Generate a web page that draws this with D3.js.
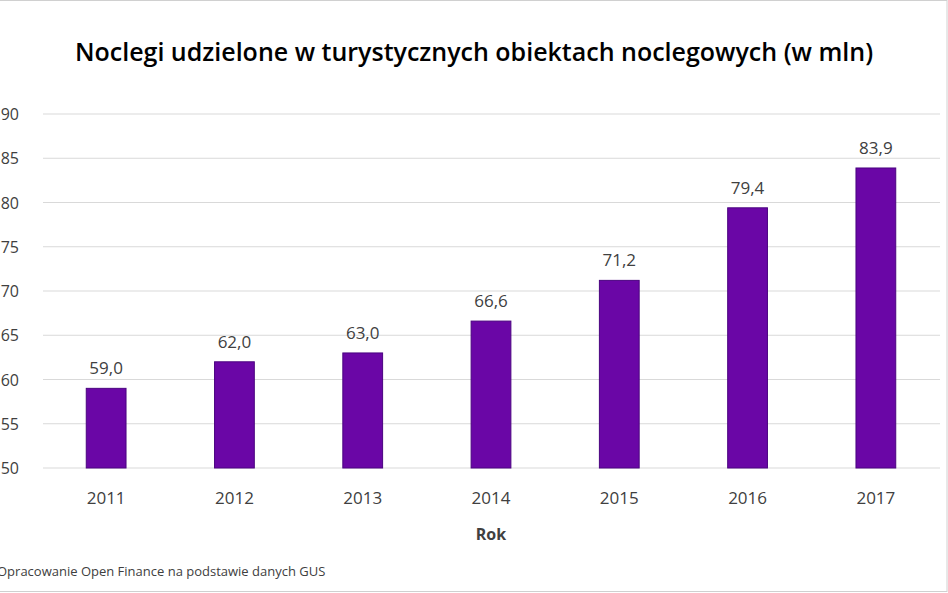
<!DOCTYPE html>
<html>
<head>
<meta charset="utf-8">
<script src="https://cdn.jsdelivr.net/npm/d3@7"></script>
<style>
  body { margin: 0; background: #fff; font-family: Calibri, Carlito, "Open Sans", sans-serif; }
  svg { display: block; }
</style>
</head>
<body>
<svg id="chart" width="948" height="593"></svg>
<script>
const years = ["2011", "2012", "2013", "2014", "2015", "2016", "2017"];
const values = [59.0, 62.0, 63.0, 66.6, 71.2, 79.4, 83.9];
const yTicks = [50, 55, 60, 65, 70, 75, 80, 85, 90];

const svg = d3.select("#chart");
const font = "'Open Sans', sans-serif";

// frame
svg.append("rect")
    .attr("x", -1).attr("y", 0.5)
    .attr("width", 948).attr("height", 591)
    .attr("fill", "none").attr("stroke", "#d0d0d0");

const x = d3.scaleBand()
    .domain(years)
    .range([42, 940])
    .paddingInner(0.69)
    .paddingOuter(0.345);

const y = d3.scaleLinear()
    .domain([50, 90])
    .range([468, 114]);

// grid
svg.selectAll(".grid")
    .data(yTicks)
    .enter()
    .append("line")
    .attr("x1", 43).attr("x2", 940)
    .attr("y1", d => y(d)).attr("y2", d => y(d))
    .attr("stroke", "#d9d9d9").attr("stroke-width", 1);

// y labels (clipped at left edge like the source)
svg.selectAll(".ytick")
    .data(yTicks)
    .enter()
    .append("text")
    .attr("x", 19)
    .attr("y", d => y(d) + 6)
    .attr("text-anchor", "end")
    .attr("font-family", font)
    .attr("font-size", 16)
    .attr("fill", "#404040")
    .text(d => d);

// bars
svg.selectAll(".bar")
    .data(values)
    .enter()
    .append("rect")
    .attr("x", (d, i) => x(years[i]))
    .attr("y", d => y(d))
    .attr("width", x.bandwidth())
    .attr("height", d => y(50) - y(d))
    .attr("fill", "#6a06a6")
    .attr("stroke", "#4b0480")
    .attr("stroke-width", 1);

// value labels
svg.selectAll(".val")
    .data(values)
    .enter()
    .append("text")
    .attr("x", (d, i) => x(years[i]) + x.bandwidth() / 2)
    .attr("y", d => y(d) - 14)
    .attr("text-anchor", "middle")
    .attr("font-family", font)
    .attr("font-size", 17)
    .attr("fill", "#404040")
    .text(d => d.toFixed(1).replace(".", ","));

// x labels
svg.selectAll(".xtick")
    .data(years)
    .enter()
    .append("text")
    .attr("x", d => x(d) + x.bandwidth() / 2)
    .attr("y", 504)
    .attr("text-anchor", "middle")
    .attr("font-family", font)
    .attr("font-size", 17)
    .attr("fill", "#404040")
    .text(d => d);

svg.append("text")
    .attr("x", 491).attr("y", 540)
    .attr("text-anchor", "middle")
    .attr("font-family", font)
    .attr("font-size", 16).attr("font-weight", "bold")
    .attr("fill", "#404040")
    .text("Rok");

svg.append("text")
    .attr("x", 474).attr("y", 61)
    .attr("text-anchor", "middle")
    .attr("font-family", font)
    .attr("font-size", 25).attr("font-weight", 600)
    .attr("fill", "#000")
    .text("Noclegi udzielone w turystycznych obiektach noclegowych (w mln)");

svg.append("text")
    .attr("x", -3).attr("y", 576)
    .attr("font-family", font)
    .attr("font-size", 13)
    .attr("fill", "#404040")
    .text("Opracowanie Open Finance na podstawie danych GUS");
</script>
</body>
</html>
